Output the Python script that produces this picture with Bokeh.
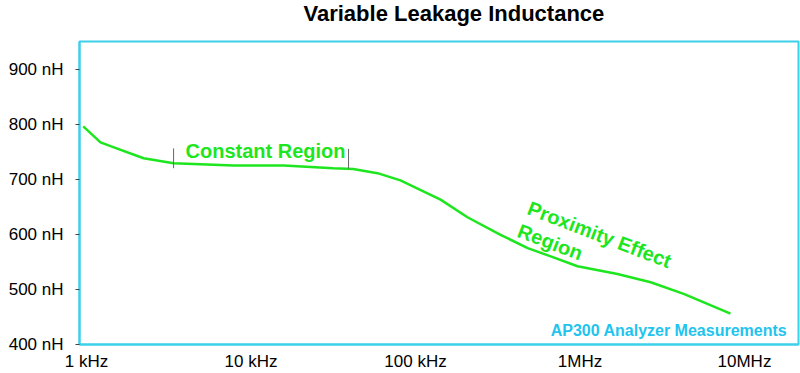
from bokeh.plotting import figure
from bokeh.models import Range1d, FixedTicker, Label, Title
from bokeh.embed import file_html
from bokeh.resources import INLINE

# ---- data ----
freq_hz = [955, 1216, 1399, 2223, 3381, 7830, 15800, 31600, 41800, 58700, 81000,
           142000, 207000, 329000, 481000, 664000, 966000, 1690000, 2690000,
           4270000, 8220000]
inductance_nh = [796, 767, 760, 738, 729, 725, 725, 720, 718.5, 711, 698,
                 663, 631, 599, 575, 560, 542, 528, 513, 492, 456]

x_ticks = [1e3, 1e4, 1e5, 1e6, 1e7]
x_tick_labels = ["1 kHz", "10 kHz", "100 kHz", "1MHz", "10MHz"]
y_ticks = [400, 500, 600, 700, 800, 900]
y_tick_labels = ["400 nH", "500 nH", "600 nH", "700 nH", "800 nH", "900 nH"]

# constant region bracket frequencies
const_region_hz = [3383, 39170]

GREEN = "#1ee61e"
CYAN = "#3dd0ea"
FONT = "Liberation Sans"

p = figure(width=800, height=373, x_axis_type="log",
           x_range=Range1d(906.5, 2.13e7), y_range=Range1d(400, 950),
           output_backend="svg", toolbar_location=None,
           min_border_left=79, min_border_right=2, min_border_top=38,
           min_border_bottom=26)

# spacer panel (closest to the frame) that lifts the title upward
p.add_layout(Title(text=" ", text_font=FONT, text_font_size="11px",
                   standoff=0), "above")
p.add_layout(Title(text="Variable Leakage Inductance", text_font=FONT,
                   text_font_size="22px", text_font_style="bold",
                   text_color="black", align="left", offset=224,
                   vertical_align="top", standoff=0), "above")

p.outline_line_color = CYAN
p.outline_line_width = 2
p.outline_line_alpha = 1
p.xgrid.visible = False
p.ygrid.visible = False
p.background_fill_color = "white"
p.border_fill_color = "white"

# x axis
p.xaxis.ticker = FixedTicker(ticks=x_ticks)
p.xaxis.major_label_overrides = {t: l for t, l in zip(x_ticks, x_tick_labels)}
p.xaxis.major_tick_out = 0
p.xaxis.major_tick_in = 0
p.xaxis.minor_tick_line_color = None
p.xaxis.axis_line_color = CYAN
p.xaxis.axis_line_width = 2
p.xaxis.major_label_standoff = 7
p.xaxis.major_label_text_font = FONT
p.xaxis.major_label_text_font_size = "17px"
p.xaxis.major_label_text_color = "black"

# y axis
p.yaxis.ticker = FixedTicker(ticks=y_ticks)
p.yaxis.major_label_overrides = {t: l for t, l in zip(y_ticks, y_tick_labels)}
p.yaxis.major_tick_out = 4
p.yaxis.major_tick_in = 0
p.yaxis.major_tick_line_color = "#444444"
p.yaxis.minor_tick_line_color = None
p.yaxis.axis_line_color = CYAN
p.yaxis.axis_line_width = 2
p.yaxis.major_label_standoff = 12
p.yaxis.major_label_text_font = FONT
p.yaxis.major_label_text_font_size = "17px"
p.yaxis.major_label_text_color = "black"

# curve
p.line(freq_hz, inductance_nh, line_color=GREEN, line_width=2.5)

# constant region bracket ticks
p.segment(x0=const_region_hz, y0=[720, 719], x1=const_region_hz, y1=[756, 755],
          line_color="#666666", line_width=1)

p.add_layout(Label(x=4000, y=751, text="Constant Region", text_font=FONT,
                   text_font_size="20px", text_font_style="bold",
                   text_color=GREEN, text_align="left",
                   text_baseline="alphabetic"))
p.add_layout(Label(x=486000, y=649, text="Proximity Effect", text_font=FONT,
                   text_font_size="20px", text_font_style="bold",
                   text_color=GREEN, text_align="left",
                   text_baseline="alphabetic", angle=-21, angle_units="deg"))
p.add_layout(Label(x=423000, y=608, text="Region", text_font=FONT,
                   text_font_size="20px", text_font_style="bold",
                   text_color=GREEN, text_align="left",
                   text_baseline="alphabetic", angle=-21, angle_units="deg"))
p.add_layout(Label(x=1.82e7, y=426, text="AP300 Analyzer Measurements",
                   text_font=FONT, text_font_size="16px",
                   text_font_style="bold", text_color="#22c4ee",
                   text_align="right", text_baseline="alphabetic"))

open("out.html", "w").write(file_html(p, INLINE))
